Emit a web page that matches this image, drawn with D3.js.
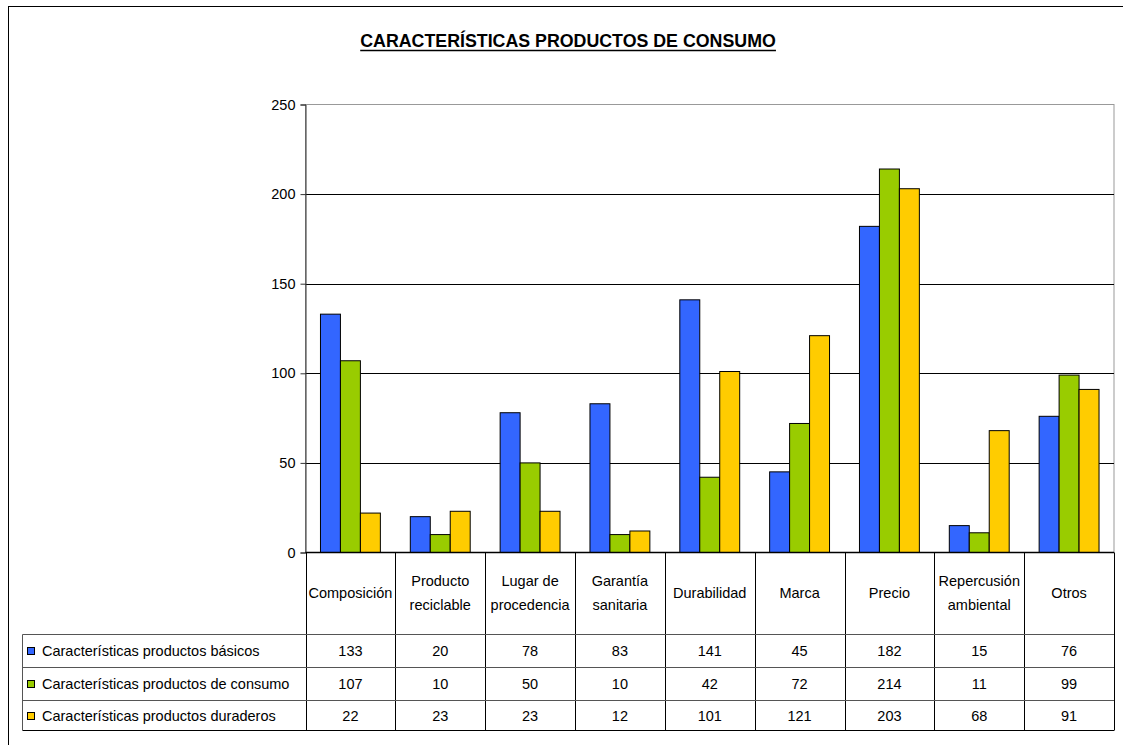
<!DOCTYPE html>
<html>
<head>
<meta charset="utf-8">
<style>
  body { margin: 0; background: #fff; }
  svg text { font-family: "Liberation Sans", Arial, sans-serif; fill: #000; }
</style>
</head>
<body>
<script src="https://d3js.org/d3.v7.min.js"></script>
<div id="chart"></div>
<script>
// data
var categories = ["Composición", "Producto reciclable", "Lugar de procedencia", "Garantía sanitaria",
                  "Durabilidad", "Marca", "Precio", "Repercusión ambiental", "Otros"];
var headerLines = [["Composición"], ["Producto", "reciclable"], ["Lugar de", "procedencia"],
                   ["Garantía", "sanitaria"], ["Durabilidad"], ["Marca"], ["Precio"],
                   ["Repercusión", "ambiental"], ["Otros"]];
var seriesNames = ["Características productos básicos",
                   "Características productos de consumo",
                   "Características productos duraderos"];
var basicos   = [133, 20, 78, 83, 141, 45, 182, 15, 76];
var consumo   = [107, 10, 50, 10, 42, 72, 214, 11, 99];
var duraderos = [22, 23, 23, 12, 101, 121, 203, 68, 91];
var seriesValues = [basicos, consumo, duraderos];
var colors = ["#3366FF", "#99CC00", "#FFCC00"];
var yTicks = [0, 50, 100, 150, 200, 250];

var width = 1123, height = 745;
var plot = { left: 305.5, right: 1114, top: 104.5, bottom: 552.5 };
var fs = "14.5px";

var svg = d3.select("#chart").append("svg")
  .attr("width", width)
  .attr("height", height);

// outer frame (runs off the right/bottom edge like the reference)
svg.append("rect")
  .attr("x", 8.5).attr("y", 6.5)
  .attr("width", 1130).attr("height", 760)
  .attr("fill", "none").attr("stroke", "#000").attr("stroke-width", 1);

// title
var title = svg.append("text")
  .attr("x", 568).attr("y", 47)
  .attr("text-anchor", "middle")
  .style("font-size", "17.8px")
  .style("font-weight", "bold")
  .text("CARACTERÍSTICAS PRODUCTOS DE CONSUMO");
var tb = title.node().getBBox();
svg.append("line")
  .attr("x1", tb.x).attr("x2", tb.x + tb.width)
  .attr("y1", 50.5).attr("y2", 50.5)
  .attr("stroke", "#000").attr("stroke-width", 1.5);

var x = d3.scaleBand()
  .domain(categories)
  .range([plot.left, plot.right])
  .padding(0);

var x1 = d3.scaleBand()
  .domain(d3.range(seriesNames.length))
  .range([x.bandwidth() / 6, x.bandwidth() * 5 / 6])
  .padding(0);

var y = d3.scaleLinear()
  .domain([0, 250])
  .range([plot.bottom, plot.top]);

// plot area border (grey)
svg.append("rect")
  .attr("x", plot.left).attr("y", plot.top)
  .attr("width", plot.right - plot.left).attr("height", plot.bottom - plot.top)
  .attr("fill", "none").attr("stroke", "#999").attr("stroke-width", 1);

// gridlines
svg.append("g")
  .selectAll("line")
  .data(yTicks.filter(function(d) { return d > 0 && d < 250; }))
  .enter().append("line")
  .attr("x1", plot.left).attr("x2", plot.right)
  .attr("y1", function(d) { return Math.round(y(d)) + 0.5; })
  .attr("y2", function(d) { return Math.round(y(d)) + 0.5; })
  .attr("stroke", "#000").attr("stroke-width", 1);

// y axis
var yAxis = svg.append("g")
  .attr("transform", "translate(" + plot.left + ",0)")
  .call(d3.axisLeft(y).tickValues(yTicks).tickSize(5).tickPadding(5));
yAxis.select(".domain").attr("stroke", "#333");
yAxis.selectAll(".tick line").attr("stroke", "#333");
yAxis.selectAll("text")
  .style("font-size", fs)
  .style("font-family", "'Liberation Sans', Arial, sans-serif")
  .attr("fill", "#000");

// bars
var groups = svg.append("g")
  .selectAll("g")
  .data(categories)
  .enter().append("g")
  .attr("transform", function(d) { return "translate(" + x(d) + ",0)"; });

groups.selectAll("rect")
  .data(function(d, i) {
    return seriesValues.map(function(vals, s) { return { s: s, v: vals[i] }; });
  })
  .enter().append("rect")
  .attr("x", function(d) { return x1(d.s); })
  .attr("y", function(d) { return y(d.v); })
  .attr("width", x1.bandwidth())
  .attr("height", function(d) { return y(0) - y(d.v); })
  .attr("fill", function(d) { return colors[d.s]; })
  .attr("stroke", "#000").attr("stroke-width", 1);

// x axis line
svg.append("line")
  .attr("x1", plot.left).attr("x2", plot.right)
  .attr("y1", plot.bottom).attr("y2", plot.bottom)
  .attr("stroke", "#000").attr("stroke-width", 1.5);

// data table
var tableLeft = 22.5;
var rowY = [552.5, 634.5, 667.5, 700.5, 730.5];

// vertical separators
svg.append("g")
  .selectAll("line")
  .data(categories.map(function(c) { return x(c); }).concat([plot.right]))
  .enter().append("line")
  .attr("x1", function(d) { return Math.round(d) + 0.5; })
  .attr("x2", function(d) { return Math.round(d) + 0.5; })
  .attr("y1", rowY[0]).attr("y2", rowY[4])
  .attr("stroke", "#000").attr("stroke-width", 1);

// horizontal lines of the value rows
svg.append("g")
  .selectAll("line")
  .data(rowY.slice(1))
  .enter().append("line")
  .attr("x1", tableLeft).attr("x2", plot.right)
  .attr("y1", function(d) { return d; }).attr("y2", function(d) { return d; })
  .attr("stroke", function(d, i) { return i === 3 ? "#000" : "#555"; })
  .attr("stroke-width", 1);

svg.append("line")
  .attr("x1", tableLeft).attr("x2", tableLeft)
  .attr("y1", rowY[1]).attr("y2", rowY[4])
  .attr("stroke", "#555");

// header labels
var headerMid = (rowY[0] + rowY[1]) / 2;
groups.each(function(c, i) {
  var lines = headerLines[i];
  var t = d3.select(this).append("text")
    .attr("text-anchor", "middle")
    .style("font-size", fs);
  lines.forEach(function(l, k) {
    t.append("tspan")
      .attr("x", x.bandwidth() / 2)
      .attr("y", headerMid + 4 + (k - (lines.length - 1) / 2) * 24)
      .text(l);
  });
});

// value rows
seriesNames.forEach(function(name, s) {
  var cy = (rowY[s + 1] + rowY[s + 2]) / 2;
  svg.append("rect")
    .attr("x", 27.5).attr("y", Math.round(cy - 4) + 0.5)
    .attr("width", 7).attr("height", 7)
    .attr("fill", colors[s]).attr("stroke", "#000").attr("stroke-width", 1);
  svg.append("text")
    .attr("x", 42).attr("y", cy + 5)
    .style("font-size", fs)
    .text(name);
  svg.append("g")
    .selectAll("text")
    .data(seriesValues[s])
    .enter().append("text")
    .attr("x", function(d, i) { return x(categories[i]) + x.bandwidth() / 2; })
    .attr("y", cy + 5)
    .attr("text-anchor", "middle")
    .style("font-size", fs)
    .text(function(d) { return d; });
});
</script>
</body>
</html>
